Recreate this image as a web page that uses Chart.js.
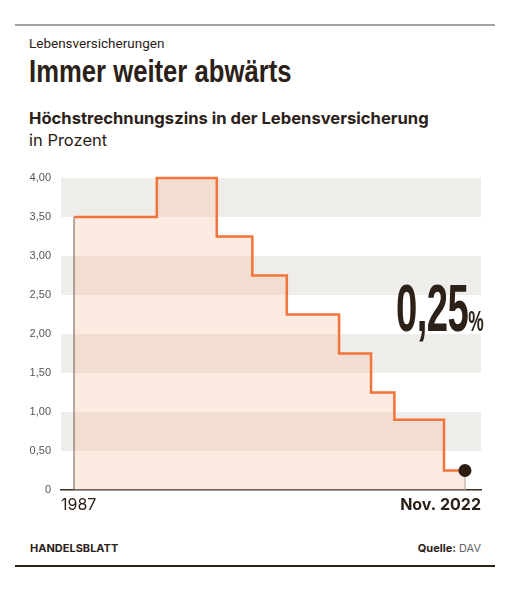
<!DOCTYPE html>
<html lang="de">
<head>
<meta charset="utf-8">
<script src="https://cdn.jsdelivr.net/npm/chart.js@4.4.0/dist/chart.umd.min.js"></script>
<style>
  body { margin: 0; background: #fff; }
  #page { position: relative; width: 513px; height: 592px; color: #2b2118; font-family: Inter, sans-serif; }
  .rule { position: absolute; left: 15px; width: 480px; }
  .txt { position: absolute; white-space: nowrap; line-height: 1; }
  #kicker { left: 29px; top: 37px; font-size: 13.5px; font-family: Roboto, sans-serif; }
  #title { left: 29px; top: 57px; font-family: "Liberation Sans", sans-serif; font-weight: bold; font-size: 29px; transform: scale(0.885, 1.05); transform-origin: left top; }
  #sub { left: 29px; top: 110px; font-size: 16.6px; font-weight: 700; }
  #unit { left: 29px; top: 132px; font-size: 16.5px; }
  #brand { left: 30px; top: 543px; font-size: 11px; font-weight: 700; }
  #source { right: 32px; top: 543px; font-size: 11px; }
  #source span { color: #666; font-weight: 400; }
  #big { left: 396px; top: 275px; font-family: "Liberation Sans", sans-serif; font-weight: bold; font-size: 66px; letter-spacing: -1px; transform: scaleX(0.58); transform-origin: left top; }
  #big small { font-size: 30px; letter-spacing: 0; }
  #chartBox { position: absolute; left: 0; top: 160px; width: 513px; height: 370px; }
</style>
</head>
<body>
<div id="page">
  <div class="rule" style="top:24px;height:1.5px;background:#a6a29d"></div>
  <div class="txt" id="kicker">Lebensversicherungen</div>
  <div class="txt" id="title">Immer weiter abwärts</div>
  <div class="txt" id="sub">Höchstrechnungszins in der Lebensversicherung</div>
  <div class="txt" id="unit">in Prozent</div>
  <div id="chartBox"><canvas id="chart"></canvas></div>
  <div class="txt" id="big"></div>
  <div class="txt" id="brand">HANDELSBLATT</div>
  <div class="txt" id="source"><b>Quelle:</b> <span>DAV</span></div>
  <div class="rule" style="top:565px;height:1.5px;background:#2b2118"></div>
</div>
<script>
// Zeitpunkte der Änderungen (Jahr als Dezimalzahl) und Zinssatz in Prozent
const years = [1987, 1994.58, 2000.08, 2003.34, 2006.5, 2011.29, 2014.22, 2016.36, 2020.91, 2022.83];
const rates = [3.5, 4.0, 3.25, 2.75, 2.25, 1.75, 1.25, 0.9, 0.25, 0.25];
const yTicks = [0, 0.5, 1, 1.5, 2, 2.5, 3, 3.5, 4];
const xLabels = ['1987', 'Nov. 2022'];
const xRange = [1985.8, 2024.3];

const lastX = years[years.length - 1];
const lastY = rates[rates.length - 1];

document.getElementById('big').innerHTML =
  lastY.toFixed(2).replace('.', ',') + '<small>%</small>';

// graue Querbänder hinter dem Diagramm
const bands = {
  id: 'bands',
  beforeDraw(chart) {
    const { ctx, chartArea, scales } = chart;
    const y = scales.y;
    ctx.save();
    ctx.fillStyle = '#efede9';
    for (let i = yTicks.length - 1; i > 0; i -= 2) {
      const top = y.getPixelForValue(yTicks[i]);
      const bottom = y.getPixelForValue(yTicks[i - 1]);
      ctx.fillRect(chartArea.left, top, chartArea.right - chartArea.left, bottom - top);
    }
    ctx.restore();
  }
};

const ctx = document.getElementById('chart');
new Chart(ctx, {
  type: 'line',
  data: {
    datasets: [
      {
        data: [{ x: lastX, y: lastY }],
        showLine: false,
        pointRadius: 6.5,
        pointBackgroundColor: '#2b1d12',
        pointBorderWidth: 0,
        clip: false,
        order: 0
      },
      {
        data: years.map((x, i) => ({ x: x, y: rates[i] })),
        stepped: true,
        borderColor: '#f2743a',
        borderWidth: 2.5,
        fill: 'origin',
        backgroundColor: 'rgba(250,196,165,0.35)',
        pointRadius: 0,
        clip: false,
        order: 1
      },
      {
        data: [{ x: years[0], y: 0 }, { x: years[0], y: rates[0] }],
        borderColor: '#4d4036',
        borderWidth: 1,
        pointRadius: 0,
        order: 2
      },
      {
        data: [{ x: lastX, y: 0 }, { x: lastX, y: lastY }],
        borderColor: '#9a9590',
        borderWidth: 1,
        pointRadius: 0,
        order: 2
      }
    ]
  },
  options: {
    responsive: true,
    maintainAspectRatio: false,
    animation: false,
    layout: { padding: { left: 0, right: 32, top: 18, bottom: 0 } },
    plugins: { legend: { display: false }, tooltip: { enabled: false } },
    scales: {
      x: {
        type: 'linear',
        min: xRange[0],
        max: xRange[1],
        grid: { display: false, drawTicks: false },
        border: { display: true, color: '#3b2f25', width: 1.5 },
        afterBuildTicks: s => { s.ticks = [{ value: xRange[0] }, { value: xRange[1] }]; },
        afterFit: s => { s.height = 40; },
        ticks: {
          align: 'inner',
          maxRotation: 0,
          padding: 6,
          color: '#2b2118',
          font: c => ({ family: 'Inter', size: 16, weight: c.index === 1 ? 'bold' : 'normal' }),
          callback: (v, i) => xLabels[i]
        }
      },
      y: {
        min: 0,
        max: 4,
        grid: { display: false, drawTicks: false },
        border: { display: false },
        afterBuildTicks: s => { s.ticks = yTicks.map(v => ({ value: v })); },
        afterFit: s => { s.width = 61; },
        ticks: {
          padding: 10,
          color: '#555',
          font: { family: 'Liberation Sans', size: 11 },
          callback: v => v === 0 ? '0' : v.toFixed(2).replace('.', ',')
        }
      }
    }
  },
  plugins: [bands]
});
</script>
</body>
</html>
